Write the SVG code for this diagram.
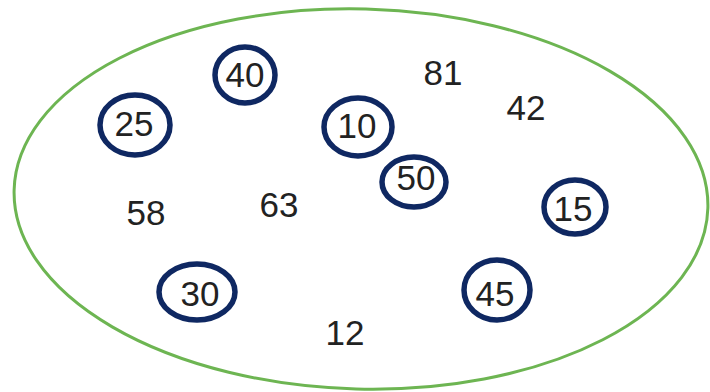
<svg xmlns="http://www.w3.org/2000/svg" width="710" height="392" viewBox="0 0 710 392">
<style>
.set{fill:none;stroke:#6db552;stroke-width:3}
.ring{fill:none;stroke:#0f2862;stroke-width:5.5}
.num{font-family:"Liberation Sans",Arial,sans-serif;font-size:35px;fill:#222;text-anchor:middle}
</style>
<rect width="710" height="392" fill="#fff"/>
<g id="set"><ellipse class="set" cx="361" cy="199" rx="347" ry="190" transform="rotate(1.5 361 199)"/></g>
<g id="n40"><ellipse class="ring" cx="245" cy="75" rx="30" ry="28"/><text class="num" x="245" y="87">40</text></g>
<g id="n25"><ellipse class="ring" cx="135" cy="125" rx="35" ry="30"/><text class="num" x="134" y="136">25</text></g>
<g id="n10"><ellipse class="ring" cx="358" cy="127" rx="34" ry="29"/><text class="num" x="357" y="138">10</text></g>
<g id="n50"><ellipse class="ring" cx="414" cy="182" rx="32" ry="25"/><text class="num" x="416" y="190">50</text></g>
<g id="n15"><ellipse class="ring" cx="575" cy="207" rx="31" ry="27"/><text class="num" x="573" y="221">15</text></g>
<g id="n30"><ellipse class="ring" cx="197" cy="292" rx="38" ry="28"/><text class="num" x="200" y="306">30</text></g>
<g id="n45"><ellipse class="ring" cx="497" cy="290" rx="33" ry="30"/><text class="num" x="495" y="306">45</text></g>
<g id="n81"><text class="num" x="443" y="85">81</text></g>
<g id="n42"><text class="num" x="526" y="120">42</text></g>
<g id="n58"><text class="num" x="146" y="225">58</text></g>
<g id="n63"><text class="num" x="279" y="217">63</text></g>
<g id="n12"><text class="num" x="345" y="345">12</text></g>
<g id="connectors"/>
</svg>
